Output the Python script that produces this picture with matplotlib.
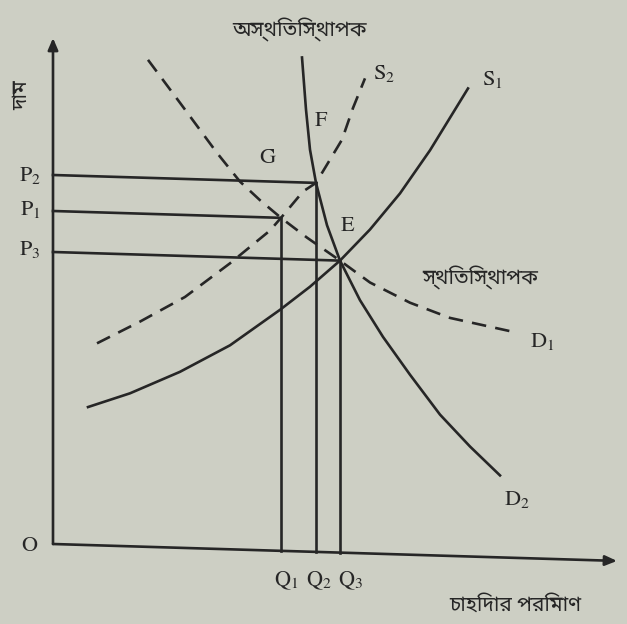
import matplotlib
matplotlib.use('Agg')
import matplotlib.pyplot as plt
from matplotlib.transforms import Affine2D

plt.rcParams['mathtext.fontset'] = 'stix'

# quantity / price coordinates read for each curve
d2_q = [249, 253, 257, 263, 274, 287, 307, 330, 357, 387, 417, 447]
d2_p = [494, 442, 402, 369, 327, 292, 253, 217, 180, 141, 110, 82]

d1_q = [95, 127, 164, 187, 207, 228, 254, 287, 317, 357, 397, 460]
d1_p = [487, 445, 396, 368, 350, 333, 314, 292, 271, 252, 238, 226]

s2_q = [44, 87, 132, 177, 217, 228, 250, 263, 289, 300, 312]
s2_p = [202, 225, 251, 286, 320, 333, 360, 369, 413, 445, 475]

s1_q = [35, 77, 127, 177, 227, 257, 287, 317, 347, 377, 415]
s1_p = [138, 153, 176, 204, 241, 265, 292, 324, 361, 405, 468]

# equilibrium points G, F, E
eq_q = [228, 263, 287]
eq_p = [333, 369, 292]
p_labels = [r'$\mathrm{P}_1$', r'$\mathrm{P}_2$', r'$\mathrm{P}_3$']
q_labels = [r'$\mathrm{Q}_1$', r'$\mathrm{Q}_2$', r'$\mathrm{Q}_3$']

x_max = 564
y_max = 506

bn_fonts = ['Noto Sans Bengali', 'Noto Serif Bengali', 'Lohit Bengali',
            'FreeSerif', 'Vrinda', 'DejaVu Sans']

ink = '#262626'
paper = '#cdcfc4'

fig = plt.figure(figsize=(6.27, 6.24), dpi=100)
fig.patch.set_facecolor(paper)
ax = fig.add_axes([0, 0, 1, 1])
ax.set_facecolor(paper)
ax.set_xlim(-53, 574)
ax.set_ylim(-80, 544)
ax.axis('off')

# the printed page is slightly skewed
tr = Affine2D().from_values(1, -0.03, 0, 1, 0, 0) + ax.transData

lw = 1.9
dash = (5.5, 3.5)

# axes with arrow heads
arrow = dict(arrowstyle='-|>,head_length=0.7,head_width=0.3',
             color=ink, lw=lw, shrinkA=0, shrinkB=0)
ax.annotate('', xy=(0, y_max), xytext=(0, 0), xycoords=tr, textcoords=tr,
            arrowprops=arrow)
ax.annotate('', xy=(x_max, 0), xytext=(0, 0), xycoords=tr, textcoords=tr,
            arrowprops=arrow)

# guide lines to the axes
for q, p in zip(eq_q, eq_p):
    ax.plot([0, q], [p, p], color=ink, lw=lw, transform=tr)
    ax.plot([q, q], [p, 0], color=ink, lw=lw, transform=tr)

# curves
ax.plot(d2_q, d2_p, color=ink, lw=lw, transform=tr)
ax.plot(s1_q, s1_p, color=ink, lw=lw, transform=tr)
ax.plot(d1_q, d1_p, color=ink, lw=lw, dashes=dash, transform=tr)
ax.plot(s2_q, s2_p, color=ink, lw=lw, dashes=dash, transform=tr)

fs = 16
txt = dict(color=ink, fontsize=fs, ha='center', va='center')
ax.text(-23, 369, p_labels[1], **txt)
ax.text(-23, 334, p_labels[0], **txt)
ax.text(-23, 294, p_labels[2], **txt)
ax.text(-23, -1, r'$\mathrm{O}$', **txt)
ax.text(233, -37, q_labels[0], **txt)
ax.text(266, -37, q_labels[1], **txt)
ax.text(298, -37, q_labels[2], **txt)
ax.text(215, 387, r'$\mathrm{G}$', **txt)
ax.text(268, 424, r'$\mathrm{F}$', **txt)
ax.text(295, 319, r'$\mathrm{E}$', **txt)
ax.text(331, 471, r'$\mathrm{S}_2$', **txt)
ax.text(439, 464, r'$\mathrm{S}_1$', **txt)
ax.text(489, 202, r'$\mathrm{D}_1$', **txt)
ax.text(464, 44, r'$\mathrm{D}_2$', **txt)

bn = dict(color=ink, fontsize=15, ha='center', va='center', family=bn_fonts)
ax.text(247, 514, 'অস্থিতিস্থাপক', **bn)
ax.text(427, 266, 'স্থিতিস্থাপক', **bn)
ax.text(462, -61, 'চাহিদার পরিমাণ', **bn)
ax.text(-31, 449, 'দাম', rotation=90, **bn)

fig.savefig('out.png', dpi=100, facecolor=paper)
